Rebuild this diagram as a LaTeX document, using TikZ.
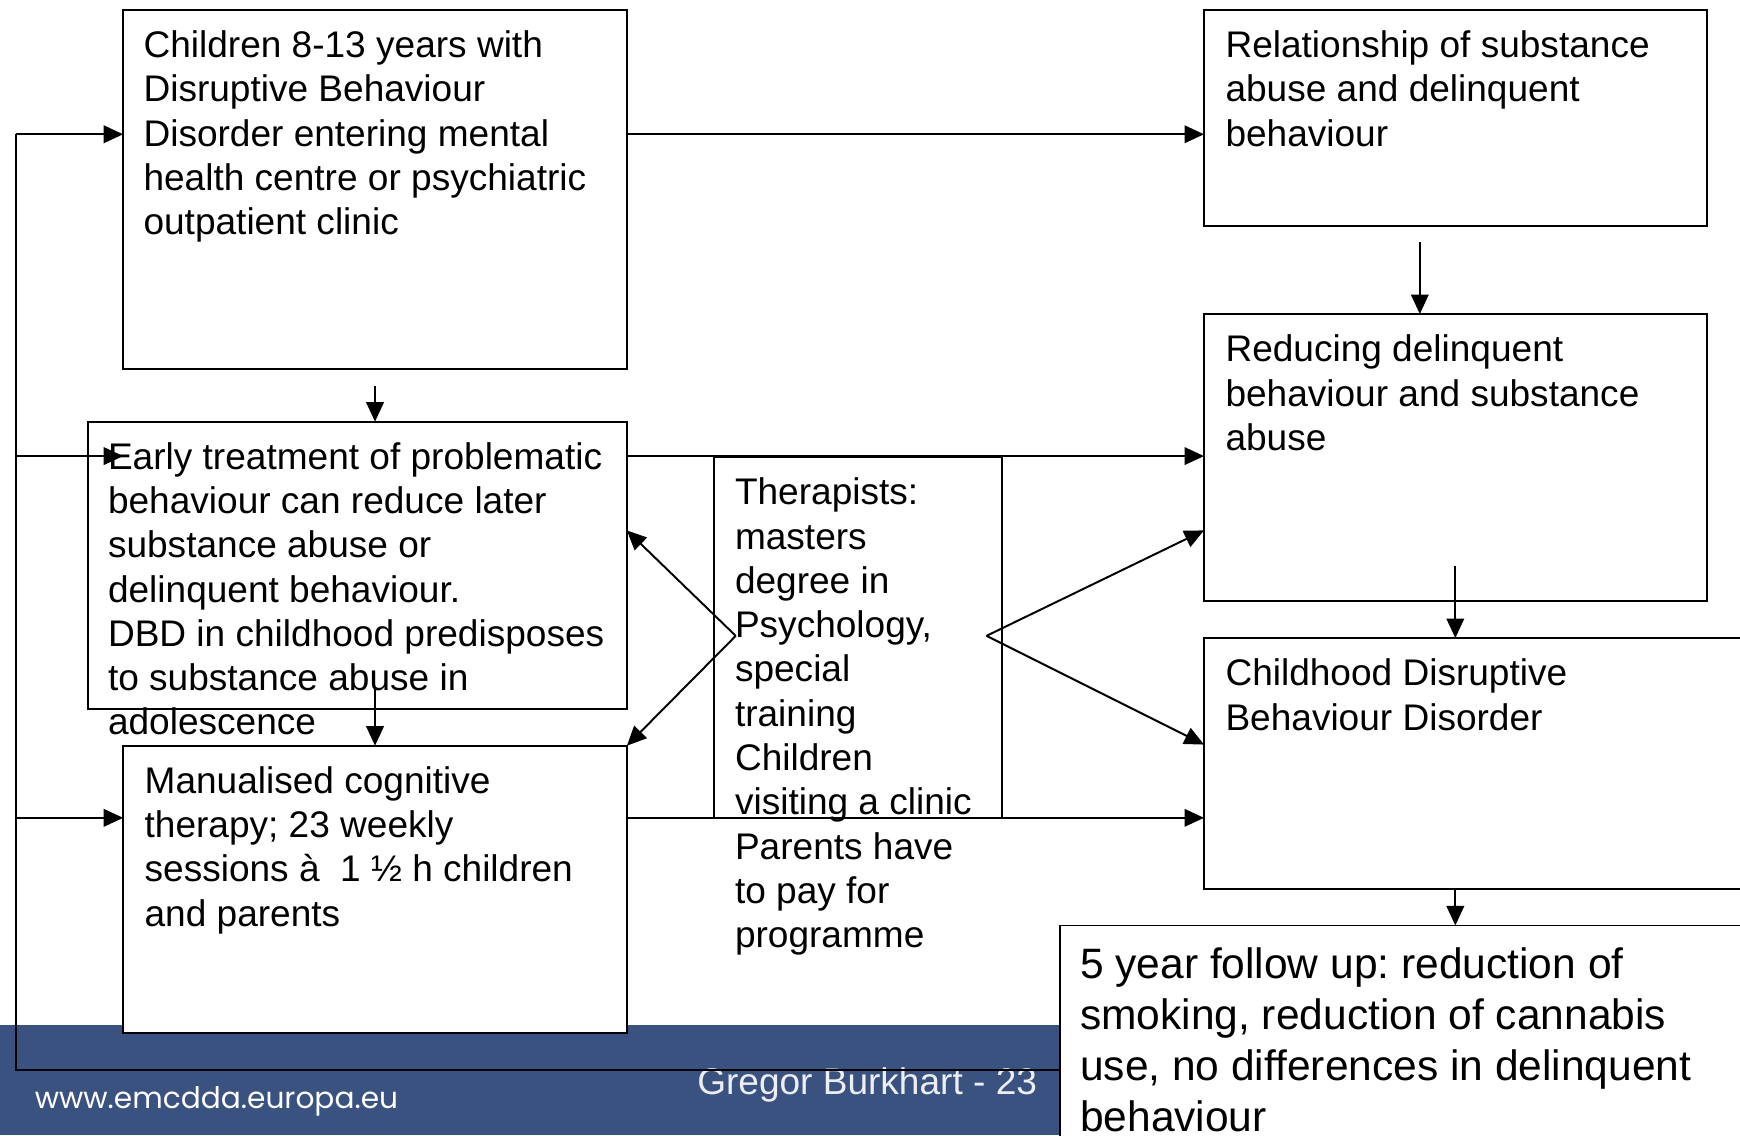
\documentclass[tikz,border=0pt]{standalone}
\usepackage{fontspec}
\setmainfont{Liberation Sans}
\newfontfamily\webfont{Poppins}
\usetikzlibrary{arrows.meta}
\frenchspacing

\definecolor{bandblue}{RGB}{58,82,128}

\tikzset{
  box/.style={draw, fill=white, line width=1pt, inner sep=0pt, outer sep=0pt, anchor=north west},
  txt/.style={anchor=north west, inner sep=0pt, align=left, font=\fontsize{19}{22.7}\selectfont},
  bigtxt/.style={txt, font=\fontsize{21.8}{26.1}\selectfont},
  arr/.style={line width=1pt, -{Triangle[length=10pt,width=9pt]}},
  plain/.style={line width=1pt}
}

\begin{document}
\begin{tikzpicture}[x=0.02cm, y=-0.02cm]
    \useasboundingbox (0,0) rectangle (1568,1023);
    \clip (0,0) rectangle (1568,1023);

    % -----------------------------------------------------
    % 1) Footer band
    % -----------------------------------------------------
    \fill[bandblue] (0,924) rectangle (1568,1023);
    \node[anchor=base west, inner sep=0pt, text=white, font=\webfont\fontsize{15.2}{18}\selectfont] (web) at (31,999) {www.emcdda.europa.eu};
    \node[anchor=base west, inner sep=0pt, text=white!90!bandblue, font=\fontsize{19}{22.7}\selectfont] (author) at (628,986) {Gregor Burkhart - 23};

    % -----------------------------------------------------
    % 2) Boxes on the left: intake, rationale, therapy
    % -----------------------------------------------------
    \node[box, minimum width=9.08cm, minimum height=6.48cm] (kids) at (111,9) {};
    \node[box, minimum width=9.72cm, minimum height=5.18cm] (early) at (79,380) {};
    \node[box, minimum width=9.08cm, minimum height=5.18cm] (therapy) at (111,672) {};
    % Therapists in the middle
    \node[box, minimum width=5.2cm, minimum height=6.5cm] (therapists) at (643,412) {};

    % -----------------------------------------------------
    % 3) Boxes on the right: outcomes
    % -----------------------------------------------------
    \node[box, minimum width=9.06cm, minimum height=3.9cm] (relation) at (1085,9) {};
    \node[box, minimum width=9.06cm, minimum height=5.18cm] (reducing) at (1085,283) {};
    \node[box, minimum width=10.3cm, minimum height=4.52cm] (dbd) at (1085,575) {};
    \node[box, minimum width=14cm, minimum height=6cm] (followup) at (955,834) {};

    % Texts of the boxes
    \node[txt] at ([shift={(0.36cm,-0.37cm)}]kids.north west) {Children 8-13 years with\\Disruptive Behaviour\\Disorder entering mental\\health centre or psychiatric\\outpatient clinic};
    \node[txt] at ([shift={(0.36cm,-0.37cm)}]early.north west) {Early treatment of problematic\\behaviour can reduce later\\substance abuse or\\delinquent behaviour.\\DBD in childhood predisposes\\to substance abuse in\\adolescence};
    \node[txt] at ([shift={(0.38cm,-0.37cm)}]therapy.north west) {Manualised cognitive\\therapy; 23 weekly\\sessions à\ \ 1 ½ h children\\and parents};
    \node[txt] at ([shift={(0.38cm,-0.37cm)}]therapists.north west) {Therapists:\\masters\\degree in\\Psychology,\\special\\training\\Children\\visiting a clinic\\Parents have\\to pay for\\programme};
    \node[txt] at ([shift={(0.38cm,-0.37cm)}]relation.north west) {Relationship of substance\\abuse and delinquent\\behaviour};
    \node[txt] at ([shift={(0.38cm,-0.37cm)}]reducing.north west) {Reducing delinquent\\behaviour and substance\\abuse};
    \node[txt] at ([shift={(0.38cm,-0.37cm)}]dbd.north west) {Childhood Disruptive\\Behaviour Disorder};
    \node[bigtxt] at ([shift={(0.36cm,-0.4cm)}]followup.north west) {5 year follow up: reduction of\\smoking, reduction of cannabis\\use, no differences in delinquent\\behaviour};

    % -----------------------------------------------------
    % 4) Connectors
    % -----------------------------------------------------
    \coordinate (fbtop) at (14,121);
    \coordinate (fbmid) at (14,411);
    \coordinate (fblow) at (14,737);
    \coordinate (fbbot) at (14,964);
    \coordinate (thl) at (663,573);
    \coordinate (thr) at (889,573);

    \draw[arr] (kids.east |- fbtop) -- (relation.west |- fbtop);
    \draw[arr] ([xshift=-0.64cm,yshift=-0.28cm]relation.south) -- ([xshift=-0.64cm]reducing.north);
    \draw[arr] ([yshift=0.64cm]reducing.south) -- (reducing.south |- dbd.north);
    \draw[arr] (reducing.south |- dbd.south) -- (reducing.south |- followup.north);

    \draw[arr] ([yshift=-0.3cm]kids.south) -- (kids.south |- early.north);
    \draw[arr] ([yshift=0.38cm]kids.south |- early.south) -- (kids.south |- therapy.north);

    \draw[arr] (early.east |- fbmid) -- (reducing.west |- fbmid);
    \draw[arr] (therapy.east |- fblow) -- (dbd.west |- fblow);

    % feedback loop on the left
    \draw[plain] (followup.west |- fbbot) -- (fbbot) -- (fbtop);
    \draw[arr] (fbtop) -- (kids.west |- fbtop);
    \draw[arr] (fbmid) -- (therapy.west |- fbmid);
    \draw[arr] (fblow) -- (therapy.west |- fblow);

    % therapists to both sides
    \draw[arr] (thl) -- ([yshift=-1.96cm]early.north east);
    \draw[arr] (thl) -- (therapy.north east);
    \draw[arr] (thr) -- ([yshift=1.28cm]reducing.south west);
    \draw[arr] (thr) -- ([yshift=-1.92cm]dbd.north west);

\end{tikzpicture}
\end{document}
